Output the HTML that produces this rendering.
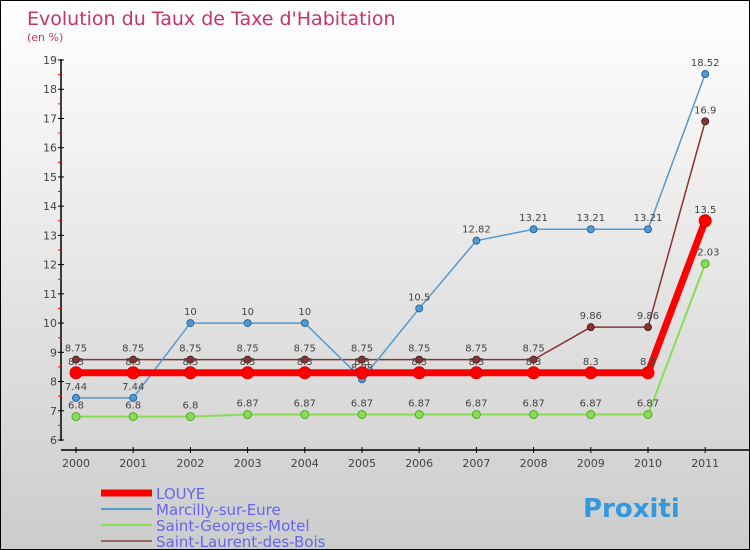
<!DOCTYPE html>
<html><head><meta charset="utf-8"><style>
body{margin:0}
#c{width:748px;height:548px;border:1px solid #000;background:linear-gradient(#fff,#ccc);position:relative;font-family:"DejaVu Sans","Liberation Sans",sans-serif;overflow:hidden}
</style></head><body>
<div id="c">
<svg id="s" width="748" height="548"></svg>
</div>
<script>
const years=["2000","2001","2002","2003","2004","2005","2006","2007","2008","2009","2010","2011"];
const louye=[8.3,8.3,8.3,8.3,8.3,8.3,8.3,8.3,8.3,8.3,8.3,13.5];
const marcilly=[7.44,7.44,10,10,10,8.08,10.5,12.82,13.21,13.21,13.21,18.52];
const georges=[6.8,6.8,6.8,6.87,6.87,6.87,6.87,6.87,6.87,6.87,6.87,12.03];
const laurent=[8.75,8.75,8.75,8.75,8.75,8.75,8.75,8.75,8.75,9.86,9.86,16.9];
const yTicks=[6,7,8,9,10,11,12,13,14,15,16,17,18,19];
const ns="http://www.w3.org/2000/svg",s=document.getElementById('s');
const X=i=>75+i*57.2, Y=v=>59+(19-v)*29.23;
function el(t,a,txt){const e=document.createElementNS(ns,t);for(const k in a)e.setAttribute(k,a[k]);if(txt!==undefined)e.textContent=txt;s.appendChild(e);return e;}
let t=el('text',{x:26,y:24,fill:'#c8336a','font-size':19});t.textContent='Evolution du Taux de Taxe d\'Habitation';

t=el('text',{x:26,y:40,fill:'#c8336a','font-size':11},'(en %)');

let a=el('line',{x1:60,y1:58,x2:60,y2:440,stroke:'#000','stroke-width':1.5});

a=el('line',{x1:60,y1:449,x2:748,y2:449,stroke:'#000','stroke-width':1.5});

yTicks.forEach(v=>{el('line',{x1:57,x2:63,y1:Y(v),y2:Y(v),stroke:'#000'});
 if(v<19)el('line',{x1:57,x2:60,y1:Y(v+0.5),y2:Y(v+0.5),stroke:'red'});
 const l=el('text',{x:56,y:Y(v)+4,'text-anchor':'end','font-size':11,fill:'#444'},v);
 });
years.forEach((y,i)=>{el('line',{x1:X(i),x2:X(i),y1:446,y2:452,stroke:'#000'});
 const l=el('text',{x:X(i),y:466,'text-anchor':'middle','font-size':11,fill:'#444'},y);
 });
function series(d,col,w,r,name,dark){
 const p=el('polyline',{points:d.map((v,i)=>X(i)+','+Y(v)).join(' '),fill:'none',stroke:col,'stroke-width':w});
 
 d.forEach((v,i)=>{const c=el('circle',{cx:X(i),cy:Y(v),r:r,fill:col,stroke:dark,'stroke-width':1});
  
  const l=el('text',{x:X(i),y:Y(v)-8,'text-anchor':'middle','font-size':10,fill:'#444'},v);
  });
}
series(georges,'#88dd55',2,4,'saint-georges-motel','#55aa22');
series(laurent,'#883333',1.5,3.5,'saint-laurent-des-bois','#552222');
series(marcilly,'#5599cc',1.5,3.5,'marcilly-sur-eure','#2266aa');
series(louye,'#ff0000',7,6,'louye','#dd0000');
const leg=[['LOUYE','#ff0000',7],['Marcilly-sur-Eure','#5599cc',2],['Saint-Georges-Motel','#88dd55',2],['Saint-Laurent-des-Bois','#996666',2]];
leg.forEach((g,i)=>{const y=492+i*16;
 const l=el('line',{x1:100,x2:151,y1:y,y2:y,stroke:g[1],'stroke-width':g[2]});
 
 const t=el('text',{x:155,y:y+6,'font-size':15,fill:'#6666ee'},g[0]);
 });
const lg=el('text',{x:582,y:516,'font-size':26,'font-weight':'bold',fill:'#3399dd'},'Proxiti');

</script>
</body></html>
